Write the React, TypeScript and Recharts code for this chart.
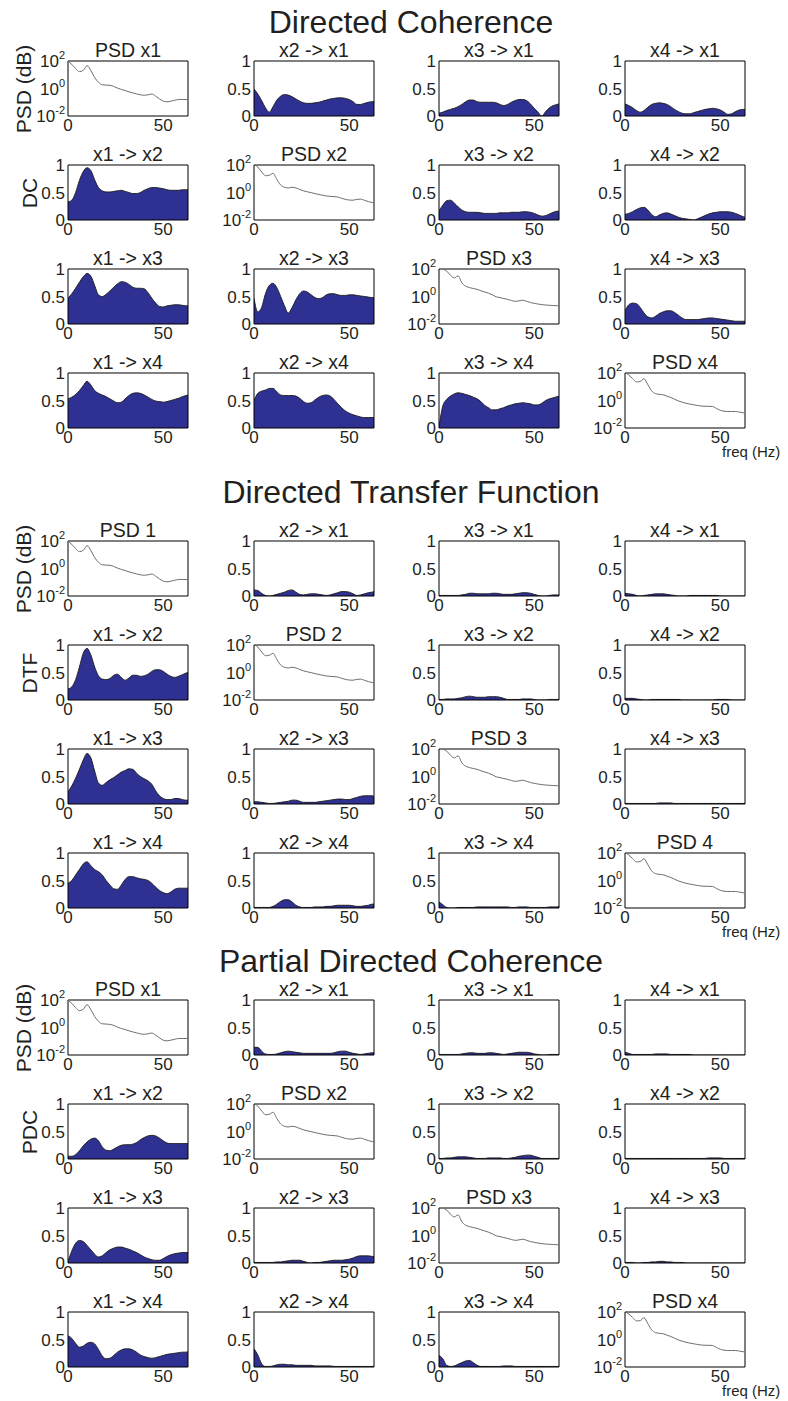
import React from 'react';
import { AreaChart, Area, LineChart, Line, XAxis, YAxis, ReferenceArea } from 'recharts';

// ---------- data ----------
const freq = [0, 2, 4, 6, 8, 10, 12, 14, 16, 18, 20, 22, 24, 26, 28, 30, 32, 34, 36, 38, 40, 42, 44, 46, 48, 50, 52, 54, 56, 58, 60, 62, 63];
const xTicks = [0, 50];
const cohTicks = [0, 0.5, 1];
const psdTicks = [-2, 0, 2]; // log10 exponents

// PSD (log10 of power)
const psd1 = [2.0, 1.75, 1.45, 1.23, 1.32, 1.66, 1.3, 0.8, 0.45, 0.27, 0.25, 0.23, 0.15, 0.03, -0.07, -0.15, -0.24, -0.32, -0.39, -0.46, -0.49, -0.46, -0.4, -0.55, -0.75, -0.92, -0.97, -0.92, -0.86, -0.8, -0.8, -0.8, -0.8];
const psd2 = [2.05, 1.85, 1.5, 1.22, 1.25, 1.4, 0.95, 0.55, 0.38, 0.33, 0.38, 0.33, 0.22, 0.12, 0.05, -0.01, -0.08, -0.14, -0.2, -0.25, -0.28, -0.3, -0.33, -0.42, -0.5, -0.55, -0.56, -0.5, -0.48, -0.57, -0.66, -0.73, -0.76];
const psd3 = [2.05, 2.0, 1.85, 1.55, 1.35, 1.5, 1.0, 0.75, 0.65, 0.58, 0.52, 0.42, 0.33, 0.24, 0.12, -0.02, -0.08, -0.15, -0.21, -0.29, -0.35, -0.32, -0.27, -0.35, -0.44, -0.5, -0.55, -0.59, -0.62, -0.64, -0.66, -0.67, -0.68];
const psd4 = [2.05, 1.85, 1.6, 1.35, 1.38, 1.58, 1.15, 0.7, 0.5, 0.45, 0.42, 0.32, 0.22, 0.1, -0.03, -0.12, -0.2, -0.26, -0.31, -0.36, -0.4, -0.42, -0.42, -0.44, -0.58, -0.71, -0.78, -0.8, -0.8, -0.8, -0.84, -0.89, -0.91];

// Directed Coherence (dcIJ = xI -> xJ)
const dc21 = [0.49, 0.4, 0.28, 0.15, 0.07, 0.17, 0.29, 0.36, 0.39, 0.38, 0.35, 0.31, 0.27, 0.24, 0.23, 0.23, 0.24, 0.25, 0.27, 0.29, 0.31, 0.32, 0.33, 0.33, 0.32, 0.3, 0.26, 0.21, 0.21, 0.23, 0.25, 0.26, 0.26];
const dc31 = [0.05, 0.07, 0.1, 0.12, 0.14, 0.17, 0.21, 0.26, 0.29, 0.29, 0.26, 0.25, 0.25, 0.25, 0.25, 0.24, 0.21, 0.19, 0.21, 0.25, 0.28, 0.3, 0.3, 0.28, 0.22, 0.14, 0.07, 0.0, 0.08, 0.15, 0.19, 0.21, 0.22];
const dc41 = [0.22, 0.19, 0.15, 0.1, 0.07, 0.1, 0.16, 0.21, 0.23, 0.24, 0.23, 0.21, 0.17, 0.12, 0.08, 0.05, 0.04, 0.04, 0.06, 0.08, 0.1, 0.12, 0.13, 0.14, 0.13, 0.11, 0.07, 0.03, 0.04, 0.08, 0.11, 0.12, 0.12];
const dc12 = [0.33, 0.36, 0.5, 0.72, 0.88, 0.95, 0.9, 0.73, 0.59, 0.53, 0.51, 0.51, 0.52, 0.53, 0.54, 0.52, 0.5, 0.48, 0.48, 0.5, 0.54, 0.57, 0.59, 0.59, 0.58, 0.57, 0.55, 0.54, 0.54, 0.54, 0.55, 0.55, 0.55];
const dc32 = [0.17, 0.27, 0.35, 0.36, 0.31, 0.24, 0.18, 0.15, 0.14, 0.14, 0.14, 0.13, 0.12, 0.12, 0.12, 0.12, 0.13, 0.13, 0.13, 0.14, 0.14, 0.14, 0.15, 0.15, 0.14, 0.12, 0.09, 0.07, 0.08, 0.11, 0.14, 0.16, 0.16];
const dc42 = [0.1, 0.12, 0.15, 0.19, 0.22, 0.23, 0.18, 0.1, 0.06, 0.09, 0.12, 0.13, 0.11, 0.08, 0.05, 0.03, 0.02, 0.01, 0.0, 0.02, 0.05, 0.08, 0.11, 0.13, 0.14, 0.15, 0.15, 0.15, 0.14, 0.12, 0.09, 0.06, 0.05];
const dc13 = [0.47, 0.55, 0.65, 0.76, 0.86, 0.92, 0.87, 0.7, 0.53, 0.5, 0.54, 0.6, 0.67, 0.73, 0.77, 0.76, 0.72, 0.67, 0.65, 0.65, 0.64, 0.57, 0.47, 0.38, 0.32, 0.31, 0.33, 0.34, 0.35, 0.35, 0.34, 0.33, 0.33];
const dc23 = [0.47, 0.22, 0.3, 0.55, 0.7, 0.74, 0.66, 0.5, 0.33, 0.2, 0.3, 0.44, 0.55, 0.6, 0.58, 0.53, 0.48, 0.46, 0.48, 0.53, 0.55, 0.55, 0.53, 0.52, 0.52, 0.53, 0.53, 0.52, 0.51, 0.5, 0.49, 0.48, 0.48];
const dc43 = [0.24, 0.35, 0.38, 0.37, 0.3, 0.2, 0.13, 0.11, 0.14, 0.19, 0.22, 0.24, 0.24, 0.21, 0.16, 0.11, 0.08, 0.08, 0.08, 0.08, 0.09, 0.1, 0.11, 0.11, 0.1, 0.09, 0.08, 0.07, 0.06, 0.05, 0.05, 0.05, 0.05];
const dc14 = [0.53, 0.56, 0.61, 0.68, 0.77, 0.85, 0.78, 0.68, 0.63, 0.6, 0.57, 0.53, 0.49, 0.46, 0.47, 0.53, 0.59, 0.63, 0.64, 0.63, 0.6, 0.56, 0.52, 0.49, 0.48, 0.47, 0.48, 0.5, 0.52, 0.54, 0.57, 0.59, 0.6];
const dc24 = [0.5, 0.63, 0.67, 0.69, 0.72, 0.72, 0.66, 0.6, 0.59, 0.59, 0.59, 0.58, 0.54, 0.48, 0.45, 0.46, 0.51, 0.56, 0.59, 0.6, 0.58, 0.52, 0.44, 0.37, 0.31, 0.27, 0.24, 0.22, 0.2, 0.19, 0.19, 0.19, 0.19];
const dc34 = [0.02, 0.4, 0.52, 0.58, 0.62, 0.64, 0.63, 0.61, 0.59, 0.56, 0.53, 0.48, 0.41, 0.37, 0.33, 0.33, 0.35, 0.37, 0.4, 0.42, 0.44, 0.45, 0.46, 0.45, 0.44, 0.42, 0.42, 0.45, 0.5, 0.53, 0.55, 0.57, 0.58];

// Directed Transfer Function
const dtf21 = [0.11, 0.1, 0.05, 0.01, 0.0, 0.01, 0.03, 0.05, 0.07, 0.1, 0.11, 0.07, 0.03, 0.02, 0.03, 0.04, 0.04, 0.03, 0.02, 0.01, 0.02, 0.04, 0.06, 0.08, 0.08, 0.07, 0.04, 0.01, 0.02, 0.04, 0.06, 0.07, 0.08];
const dtf31 = [0.01, 0.01, 0.01, 0.01, 0.01, 0.01, 0.02, 0.03, 0.05, 0.05, 0.04, 0.04, 0.04, 0.04, 0.05, 0.05, 0.04, 0.03, 0.03, 0.03, 0.04, 0.05, 0.06, 0.06, 0.05, 0.03, 0.01, 0.0, 0.0, 0.01, 0.02, 0.02, 0.02];
const dtf41 = [0.05, 0.04, 0.03, 0.01, 0.0, 0.01, 0.02, 0.03, 0.04, 0.04, 0.04, 0.03, 0.02, 0.01, 0.0, 0.0, 0.0, 0.01, 0.01, 0.01, 0.01, 0.01, 0.01, 0.01, 0.01, 0.0, 0.0, 0.0, 0.0, 0.0, 0.0, 0.0, 0.0];
const dtf12 = [0.2, 0.24, 0.37, 0.6, 0.85, 0.94, 0.82, 0.6, 0.44, 0.38, 0.37, 0.39, 0.45, 0.47, 0.41, 0.36, 0.4, 0.45, 0.45, 0.43, 0.44, 0.47, 0.52, 0.55, 0.55, 0.52, 0.47, 0.43, 0.41, 0.43, 0.46, 0.49, 0.5];
const dtf32 = [0.01, 0.01, 0.02, 0.02, 0.02, 0.03, 0.04, 0.06, 0.07, 0.06, 0.05, 0.05, 0.05, 0.06, 0.06, 0.06, 0.05, 0.03, 0.01, 0.01, 0.01, 0.01, 0.02, 0.02, 0.02, 0.01, 0.0, 0.0, 0.0, 0.01, 0.01, 0.01, 0.01];
const dtf42 = [0.03, 0.03, 0.03, 0.02, 0.01, 0.0, 0.0, 0.01, 0.01, 0.01, 0.01, 0.01, 0.01, 0.01, 0.01, 0.0, 0.0, 0.0, 0.0, 0.0, 0.0, 0.0, 0.0, 0.0, 0.01, 0.01, 0.01, 0.01, 0.0, 0.0, 0.0, 0.0, 0.0];
const dtf13 = [0.22, 0.33, 0.47, 0.63, 0.8, 0.92, 0.84, 0.6, 0.38, 0.34, 0.39, 0.44, 0.48, 0.53, 0.58, 0.61, 0.64, 0.63, 0.56, 0.5, 0.46, 0.42, 0.36, 0.24, 0.15, 0.1, 0.08, 0.08, 0.1, 0.1, 0.08, 0.07, 0.07];
const dtf23 = [0.04, 0.04, 0.03, 0.02, 0.01, 0.01, 0.02, 0.03, 0.04, 0.05, 0.07, 0.07, 0.05, 0.03, 0.03, 0.03, 0.03, 0.04, 0.05, 0.06, 0.07, 0.08, 0.09, 0.09, 0.08, 0.08, 0.1, 0.12, 0.14, 0.15, 0.15, 0.15, 0.14];
const dtf43 = [0.01, 0.01, 0.01, 0.01, 0.01, 0.01, 0.01, 0.01, 0.01, 0.02, 0.02, 0.02, 0.02, 0.01, 0.01, 0.01, 0.01, 0.01, 0.01, 0.01, 0.01, 0.01, 0.01, 0.01, 0.01, 0.01, 0.01, 0.01, 0.01, 0.01, 0.01, 0.01, 0.01];
const dtf14 = [0.45, 0.5, 0.6, 0.7, 0.8, 0.84, 0.77, 0.7, 0.66, 0.6, 0.5, 0.42, 0.35, 0.34, 0.42, 0.52, 0.57, 0.57, 0.55, 0.53, 0.52, 0.5, 0.45, 0.38, 0.32, 0.28, 0.26, 0.29, 0.34, 0.36, 0.36, 0.36, 0.36];
const dtf24 = [0.01, 0.01, 0.01, 0.01, 0.01, 0.03, 0.07, 0.12, 0.15, 0.15, 0.11, 0.05, 0.02, 0.01, 0.01, 0.01, 0.02, 0.02, 0.02, 0.03, 0.03, 0.04, 0.05, 0.05, 0.05, 0.05, 0.04, 0.03, 0.03, 0.04, 0.05, 0.07, 0.07];
const dtf34 = [0.11, 0.06, 0.01, 0.0, 0.0, 0.01, 0.01, 0.01, 0.01, 0.01, 0.02, 0.02, 0.02, 0.02, 0.02, 0.02, 0.02, 0.02, 0.02, 0.01, 0.01, 0.02, 0.02, 0.02, 0.01, 0.01, 0.01, 0.01, 0.01, 0.02, 0.02, 0.02, 0.03];

// Partial Directed Coherence
const pdc21 = [0.14, 0.14, 0.07, 0.02, 0.01, 0.01, 0.02, 0.04, 0.06, 0.07, 0.06, 0.05, 0.04, 0.03, 0.03, 0.03, 0.03, 0.03, 0.03, 0.03, 0.03, 0.04, 0.06, 0.07, 0.07, 0.05, 0.03, 0.02, 0.01, 0.02, 0.03, 0.04, 0.04];
const pdc31 = [0.01, 0.01, 0.01, 0.01, 0.01, 0.01, 0.02, 0.03, 0.04, 0.04, 0.03, 0.03, 0.03, 0.04, 0.04, 0.03, 0.02, 0.01, 0.02, 0.03, 0.04, 0.05, 0.05, 0.05, 0.04, 0.02, 0.01, 0.0, 0.0, 0.01, 0.01, 0.01, 0.01];
const pdc41 = [0.05, 0.03, 0.01, 0.01, 0.01, 0.01, 0.01, 0.01, 0.02, 0.02, 0.02, 0.02, 0.01, 0.01, 0.01, 0.01, 0.01, 0.01, 0.0, 0.0, 0.0, 0.0, 0.0, 0.0, 0.0, 0.0, 0.0, 0.0, 0.0, 0.0, 0.0, 0.0, 0.0];
const pdc12 = [0.05, 0.05, 0.08, 0.15, 0.24, 0.31, 0.36, 0.38, 0.33, 0.22, 0.16, 0.15, 0.18, 0.22, 0.25, 0.26, 0.26, 0.27, 0.3, 0.35, 0.39, 0.42, 0.43, 0.42, 0.38, 0.33, 0.29, 0.28, 0.28, 0.28, 0.28, 0.28, 0.28];
const pdc32 = [0.01, 0.01, 0.02, 0.02, 0.03, 0.04, 0.04, 0.04, 0.03, 0.02, 0.01, 0.01, 0.01, 0.02, 0.02, 0.02, 0.02, 0.01, 0.01, 0.02, 0.03, 0.05, 0.06, 0.07, 0.07, 0.05, 0.03, 0.01, 0.01, 0.01, 0.01, 0.01, 0.01];
const pdc42 = [0.01, 0.01, 0.01, 0.01, 0.01, 0.01, 0.01, 0.01, 0.01, 0.01, 0.01, 0.01, 0.01, 0.01, 0.01, 0.01, 0.01, 0.01, 0.01, 0.01, 0.01, 0.01, 0.02, 0.02, 0.02, 0.02, 0.01, 0.01, 0.01, 0.01, 0.01, 0.01, 0.01];
const pdc13 = [0.03, 0.22, 0.36, 0.41, 0.39, 0.32, 0.24, 0.16, 0.11, 0.13, 0.19, 0.24, 0.27, 0.29, 0.29, 0.27, 0.25, 0.22, 0.19, 0.15, 0.11, 0.08, 0.06, 0.05, 0.05, 0.08, 0.12, 0.15, 0.17, 0.18, 0.19, 0.19, 0.19];
const pdc23 = [0.01, 0.01, 0.01, 0.01, 0.01, 0.01, 0.02, 0.02, 0.03, 0.04, 0.05, 0.05, 0.05, 0.03, 0.01, 0.0, 0.01, 0.01, 0.02, 0.03, 0.04, 0.05, 0.05, 0.05, 0.06, 0.07, 0.09, 0.12, 0.13, 0.13, 0.13, 0.12, 0.12];
const pdc43 = [0.01, 0.01, 0.01, 0.0, 0.0, 0.01, 0.01, 0.02, 0.02, 0.03, 0.03, 0.02, 0.02, 0.01, 0.01, 0.01, 0.0, 0.0, 0.0, 0.0, 0.0, 0.0, 0.0, 0.0, 0.0, 0.0, 0.0, 0.0, 0.0, 0.0, 0.0, 0.0, 0.0];
const pdc14 = [0.57, 0.52, 0.43, 0.36, 0.38, 0.43, 0.45, 0.42, 0.32, 0.2, 0.15, 0.16, 0.21, 0.27, 0.31, 0.33, 0.33, 0.31, 0.27, 0.22, 0.19, 0.17, 0.16, 0.17, 0.19, 0.21, 0.23, 0.24, 0.25, 0.26, 0.27, 0.27, 0.28];
const pdc24 = [0.33, 0.22, 0.06, 0.01, 0.01, 0.02, 0.04, 0.05, 0.05, 0.04, 0.04, 0.03, 0.03, 0.03, 0.03, 0.03, 0.02, 0.02, 0.02, 0.02, 0.02, 0.01, 0.01, 0.01, 0.01, 0.01, 0.01, 0.01, 0.01, 0.01, 0.01, 0.01, 0.01];
const pdc34 = [0.21, 0.15, 0.03, 0.01, 0.02, 0.05, 0.08, 0.11, 0.12, 0.08, 0.03, 0.01, 0.01, 0.01, 0.01, 0.01, 0.01, 0.02, 0.02, 0.02, 0.01, 0.01, 0.01, 0.01, 0.01, 0.01, 0.01, 0.01, 0.01, 0.01, 0.01, 0.01, 0.01];

// ---------- layout / style ----------
const FONT = '"Liberation Sans", Arial, Helvetica, sans-serif';
const TXT = '#231f20';
const FILL = '#2e3192';
const COL_LEFT = [68, 254, 439, 625];
const ROW_OFF = [0, 104, 208, 312];
const BOX_W = 120;
const BOX_H = 55;
const YAX_W = 52;
const MT = 16;
const MR = 8;
const XAX_H = 26;
const CW = YAX_W + BOX_W + MR;
const CH = MT + BOX_H + XAX_H;
const TICK_FS = 17;

type Block = {
  top: number;
  titleBaseline: number;
  title: string;
  label: string;
  psdNames: string[];
  grid: number[][][];
};

const blocks: Block[] = [
  {
    top: 61, titleBaseline: 33, title: 'Directed Coherence', label: 'DC',
    psdNames: ['PSD x1', 'PSD x2', 'PSD x3', 'PSD x4'],
    grid: [[psd1, dc21, dc31, dc41], [dc12, psd2, dc32, dc42], [dc13, dc23, psd3, dc43], [dc14, dc24, dc34, psd4]],
  },
  {
    top: 541, titleBaseline: 503, title: 'Directed Transfer Function', label: 'DTF',
    psdNames: ['PSD 1', 'PSD 2', 'PSD 3', 'PSD 4'],
    grid: [[psd1, dtf21, dtf31, dtf41], [dtf12, psd2, dtf32, dtf42], [dtf13, dtf23, psd3, dtf43], [dtf14, dtf24, dtf34, psd4]],
  },
  {
    top: 1000, titleBaseline: 972, title: 'Partial Directed Coherence', label: 'PDC',
    psdNames: ['PSD x1', 'PSD x2', 'PSD x3', 'PSD x4'],
    grid: [[psd1, pdc21, pdc31, pdc41], [pdc12, psd2, pdc32, pdc42], [pdc13, pdc23, psd3, pdc43], [pdc14, pdc24, pdc34, psd4]],
  },
];

const tickStyle = { fontSize: TICK_FS, fill: TXT, fontFamily: FONT };

const LogTick = (props: any) => {
  const { x, y, payload } = props;
  return (
    <text x={x} y={y} textAnchor="end" fontFamily={FONT} fontSize={TICK_FS} fill={TXT}>
      <tspan dy="0.36em">10</tspan>
      <tspan dy={-8} fontSize={11}>{String(payload.value)}</tspan>
    </text>
  );
};

const xAxis = (
  <XAxis dataKey="f" type="number" domain={[0, 63]} ticks={xTicks} interval={0} allowDataOverflow
    tickLine={false} axisLine={false} tickSize={0} tickMargin={3} height={XAX_H} tick={tickStyle} />
);

function CohPlot({ values }: { values: number[] }) {
  const data = freq.map((f, i) => ({ f, v: values[i] }));
  return (
    <AreaChart width={CW} height={CH} data={data} margin={{ top: MT, right: MR, bottom: 0, left: 0 }}>
      {xAxis}
      <YAxis type="number" domain={[0, 1]} ticks={cohTicks} interval={0} allowDataOverflow width={YAX_W}
        tickLine={false} axisLine={false} tickSize={0} tickMargin={3} tick={tickStyle} />
      <Area type="monotone" dataKey="v" stroke="#1a1a1a" strokeWidth={0.9} fill={FILL} fillOpacity={1}
        isAnimationActive={false} dot={false} activeDot={false} />
      <ReferenceArea x1={0} x2={63} y1={0} y2={1} fill="none" stroke="#000" strokeWidth={1} ifOverflow="visible" />
    </AreaChart>
  );
}

function PsdPlot({ values }: { values: number[] }) {
  const data = freq.map((f, i) => ({ f, v: values[i] }));
  return (
    <LineChart width={CW} height={CH} data={data} margin={{ top: MT, right: MR, bottom: 0, left: 0 }}>
      {xAxis}
      <YAxis type="number" domain={[-2, 2]} ticks={psdTicks} interval={0} allowDataOverflow width={YAX_W}
        tickLine={false} axisLine={false} tickSize={0} tickMargin={3} tick={<LogTick />} />
      <Line type="monotone" dataKey="v" stroke="#6d6e71" strokeWidth={1} dot={false} activeDot={false}
        isAnimationActive={false} />
      <ReferenceArea x1={0} x2={63} y1={-2} y2={2} fill="none" stroke="#000" strokeWidth={1} ifOverflow="visible" />
    </LineChart>
  );
}

const TITLE_FS = 19.5;

function SubTitle({ text, left, top }: { text: string; left: number; top: number }) {
  const baseline = top - 3;
  return (
    <div style={{
      position: 'absolute', left: left - 20, width: BOX_W + 40, top: baseline - 0.8465 * TITLE_FS, height: TITLE_FS,
      lineHeight: `${TITLE_FS}px`, fontSize: TITLE_FS, fontFamily: FONT, color: TXT, textAlign: 'center', whiteSpace: 'nowrap',
    }}>{text}</div>
  );
}

function VLabel({ text, cx, cy, fs }: { text: string; cx: number; cy: number; fs: number }) {
  return (
    <div style={{
      position: 'absolute', left: cx, top: cy, fontSize: fs, lineHeight: 1, fontFamily: FONT, color: TXT,
      whiteSpace: 'nowrap', transform: 'translate(-50%, -50%) rotate(-90deg)',
    }}>{text}</div>
  );
}

const BLOCK_FS = 32;

export default function App() {
  return (
    <div style={{ position: 'absolute', left: 0, top: 0, width: 788, height: 1401, background: '#fff', overflow: 'hidden' }}>
      {blocks.map((b, bi) => (
        <React.Fragment key={bi}>
          <div style={{
            position: 'absolute', left: 0, width: 822, top: b.titleBaseline - 0.8465 * BLOCK_FS, height: BLOCK_FS,
            lineHeight: `${BLOCK_FS}px`, fontSize: BLOCK_FS, fontFamily: FONT, color: TXT, textAlign: 'center', whiteSpace: 'nowrap',
          }}>{b.title}</div>
          <VLabel text="PSD (dB)" cx={23} cy={b.top + BOX_H / 2} fs={21} />
          <VLabel text={b.label} cx={29} cy={b.top + ROW_OFF[1] + BOX_H / 2} fs={21} />
          {b.grid.map((row, r) => row.map((vals, c) => {
            const L = COL_LEFT[c];
            const T = b.top + ROW_OFF[r];
            const isPsd = r === c;
            const title = isPsd ? b.psdNames[r] : `x${c + 1} -> x${r + 1}`;
            return (
              <React.Fragment key={`${bi}-${r}-${c}`}>
                <div style={{ position: 'absolute', left: L - YAX_W, top: T - MT, width: CW, height: CH }}>
                  {isPsd ? <PsdPlot values={vals} /> : <CohPlot values={vals} />}
                </div>
                <SubTitle text={title} left={L} top={T} />
              </React.Fragment>
            );
          }))}
          <div style={{
            position: 'absolute', left: 722, top: b.top + ROW_OFF[3] + BOX_H + 16, fontSize: 15, lineHeight: 1,
            fontFamily: FONT, color: TXT, whiteSpace: 'nowrap',
          }}>freq (Hz)</div>
        </React.Fragment>
      ))}
    </div>
  );
}
